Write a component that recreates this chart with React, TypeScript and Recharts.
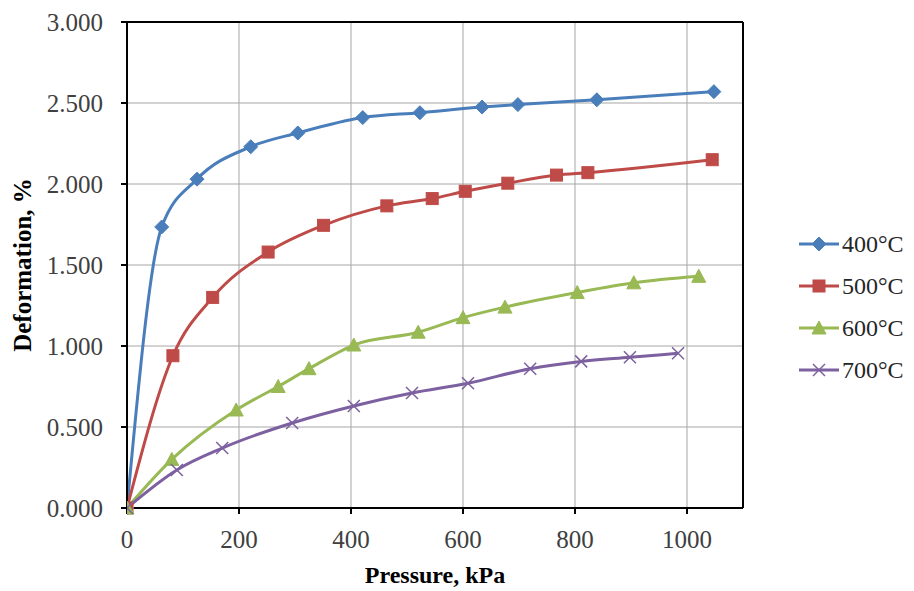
import React from 'react';
import {
  LineChart, Line, XAxis, YAxis, CartesianGrid, ReferenceLine, Label
} from 'recharts';

// values (pressure kPa -> deformation %)
const pressure400 = [0, 62, 125, 221, 305, 421, 523, 634, 698, 839, 1048];
const deform400 = [0, 1.735, 2.03, 2.23, 2.315, 2.41, 2.44, 2.475, 2.49, 2.52, 2.57];
const pressure500 = [0, 82, 153, 252, 351, 464, 545, 604, 680, 767, 823, 1045];
const deform500 = [0, 0.94, 1.3, 1.58, 1.745, 1.865, 1.91, 1.955, 2.005, 2.055, 2.07, 2.15];
const pressure600 = [0, 80, 195, 270, 325, 405, 520, 600, 675, 804, 905, 1021];
const deform600 = [0, 0.3, 0.605, 0.75, 0.86, 1.006, 1.085, 1.175, 1.24, 1.33, 1.39, 1.43];
const pressure700 = [0, 89, 170, 295, 405, 509, 609, 720, 811, 898, 984];
const deform700 = [0, 0.235, 0.37, 0.525, 0.63, 0.71, 0.77, 0.86, 0.905, 0.93, 0.955];

const xTicks = [0, 200, 400, 600, 800, 1000];
const yTicks = [0, 0.5, 1, 1.5, 2, 2.5, 3];

type Shape = 'diamond' | 'square' | 'triangle' | 'cross';

const toPoints = (xs: number[], ys: number[]) => xs.map((x, i) => ({ x, y: ys[i] }));

const seriesList: { name: string; color: string; shape: Shape; data: { x: number; y: number }[] }[] = [
  { name: '400°C', color: '#4A7EBB', shape: 'diamond', data: toPoints(pressure400, deform400) },
  { name: '500°C', color: '#BE4B48', shape: 'square', data: toPoints(pressure500, deform500) },
  { name: '600°C', color: '#98B954', shape: 'triangle', data: toPoints(pressure600, deform600) },
  { name: '700°C', color: '#7D60A0', shape: 'cross', data: toPoints(pressure700, deform700) },
];

const FONT = '"Liberation Serif", "Times New Roman", serif';

const Marker = ({ cx, cy, shape, color }: { cx: number; cy: number; shape: Shape; color: string }) => {
  if (shape === 'diamond') {
    return <polygon points={`${cx},${cy - 7} ${cx + 7},${cy} ${cx},${cy + 7} ${cx - 7},${cy}`} fill={color} stroke={color} />;
  }
  if (shape === 'square') {
    return <rect x={cx - 6} y={cy - 6} width={12} height={12} fill={color} stroke={color} />;
  }
  if (shape === 'triangle') {
    return <polygon points={`${cx},${cy - 7} ${cx + 7},${cy + 6} ${cx - 7},${cy + 6}`} fill={color} stroke={color} />;
  }
  return (
    <g stroke={color} strokeWidth={1.5}>
      <line x1={cx - 6} y1={cy - 6} x2={cx + 6} y2={cy + 6} />
      <line x1={cx - 6} y1={cy + 6} x2={cx + 6} y2={cy - 6} />
    </g>
  );
};

const renderDot = (shape: Shape, color: string) => (props: any) => {
  const { cx, cy, index } = props;
  return (
    <g key={`${shape}-${index}`}>
      <Marker cx={cx} cy={cy} shape={shape} color={color} />
    </g>
  );
};

const LegendBox = () => (
  <div style={{ position: 'absolute', left: 797, top: 223, fontFamily: FONT, fontSize: 24, color: '#262626' }}>
    {seriesList.map((s) => (
      <div key={s.name} style={{ display: 'flex', alignItems: 'center', height: 42 }}>
        <svg width={44} height={20}>
          <line x1={2} y1={10} x2={42} y2={10} stroke={s.color} strokeWidth={3} />
          <Marker cx={22} cy={10} shape={s.shape} color={s.color} />
        </svg>
        <span style={{ marginLeft: 1 }}>{s.name}</span>
      </div>
    ))}
  </div>
);

const App: React.FC = () => {
  return (
    <div style={{ position: 'absolute', left: 0, top: 0, width: 914, height: 591, background: '#fff' }}>
      <LineChart width={914} height={591} margin={{ top: 22, right: 171, bottom: 0, left: 0 }}>
        <CartesianGrid stroke="#a6a6a6" strokeWidth={1} />
        <XAxis
          type="number"
          dataKey="x"
          domain={[0, 1100]}
          ticks={xTicks}
          allowDataOverflow
          height={83}
          axisLine={{ stroke: '#000', strokeWidth: 2 }}
          tickLine={{ stroke: '#000', strokeWidth: 2 }}
          tickSize={6}
          tickMargin={16}
          tick={{ fill: '#404040', fontSize: 25, fontFamily: FONT }}
        >
          <Label
            content={({ viewBox }: any) => (
              <text
                x={viewBox.x + viewBox.width / 2}
                y={viewBox.y + 67}
                textAnchor="middle"
                dominantBaseline="central"
                fontFamily={FONT}
                fontSize={24}
                fontWeight="bold"
                fill="#000"
              >
                Pressure, kPa
              </text>
            )}
          />
        </XAxis>
        <YAxis
          type="number"
          domain={[0, 3]}
          ticks={yTicks}
          width={127}
          axisLine={{ stroke: '#000', strokeWidth: 2 }}
          tickLine={{ stroke: '#000', strokeWidth: 2 }}
          tickSize={6}
          tickMargin={18}
          tickFormatter={(v: number) => v.toFixed(3)}
          tick={{ fill: '#404040', fontSize: 25, fontFamily: FONT }}
        >
          <Label
            content={({ viewBox }: any) => {
              const cx = viewBox.x + 22;
              const cy = viewBox.y + viewBox.height / 2;
              return (
                <text
                  x={cx}
                  y={cy}
                  transform={`rotate(-90 ${cx} ${cy})`}
                  textAnchor="middle"
                  dominantBaseline="central"
                  fontFamily={FONT}
                  fontSize={25}
                  fontWeight="bold"
                  fill="#000"
                >
                  Deformation, %
                </text>
              );
            }}
          />
        </YAxis>
        <ReferenceLine y={3} stroke="#000" strokeWidth={2} />
        <ReferenceLine x={1100} stroke="#000" strokeWidth={2} />
        {seriesList.map((s) => (
          <Line
            key={s.name}
            name={s.name}
            data={s.data}
            dataKey="y"
            type="monotone"
            stroke={s.color}
            strokeWidth={3}
            dot={renderDot(s.shape, s.color)}
            activeDot={false}
            isAnimationActive={false}
          />
        ))}
      </LineChart>
      <LegendBox />
    </div>
  );
};

export default App;
